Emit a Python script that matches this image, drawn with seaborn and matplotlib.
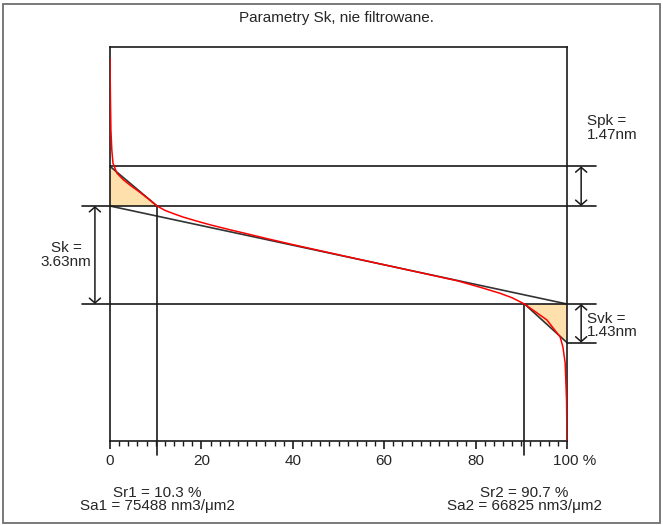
import numpy as np
import pandas as pd
import matplotlib
matplotlib.use("Agg")
import matplotlib.pyplot as plt
from matplotlib.patches import Rectangle, Polygon
import seaborn as sns

# Krzywa Abbotta-Firestone'a
bearing_pct = [0.0, 0.05, 0.1, 0.2, 0.4, 0.65, 1.5, 2.8, 4.4, 6.6, 8.5, 10.3, 12.0,
               14.0, 16.0, 19.0, 22.0, 26.0, 30.0, 34.4, 40.0, 52.5, 67.8, 76.0,
               81.0, 85.3, 88.0, 90.7, 95.6, 98.5, 99.1, 99.6, 99.9, 100.0]
height_nm = [9.10, 8.30, 7.56, 6.44, 5.70, 5.22, 4.85, 4.62, 4.40, 4.13, 3.88, 3.63,
             3.47, 3.34, 3.22, 3.07, 2.93, 2.76, 2.60, 2.42, 2.20, 1.73, 1.165,
             0.86, 0.62, 0.40, 0.23, 0.0, -0.59, -1.22, -1.59, -2.19, -3.56, -5.07]

# Parametry Sk
Sk = 3.63
Spk = 1.47
Svk = 1.43
Sr1 = 10.3
Sr2 = 90.7
Sa1 = 75488
Sa2 = 66825

title = "Parametry Sk, nie filtrowane."
x_ticks = [0, 20, 40, 60, 80, 100]
x_ticklabels = ["0", "20", "40", "60", "80", "100 %"]

sns.set_style("white")
plt.rcParams["font.family"] = ["Liberation Sans", "DejaVu Sans"]

fs = 11

df = pd.DataFrame({"pct": bearing_pct, "h": height_nm})

fig = plt.figure(figsize=(6.63, 5.25), dpi=100)
ax = fig.add_axes([110 / 663, 1 - 441 / 525, 457 / 663, 394 / 525])

ink = "#1a1a1a"
fill_col = "#fde0ac"
ax.set_xlim(0, 100)
ax.set_ylim(-5.074, 9.519)

core_top = Sk
core_bot = 0.0
peak_top = Sk + Spk
valley_bot = -Svk

# trojkaty Spk / Svk
ax.add_patch(Polygon([(0, peak_top), (0, core_top), (Sr1, core_top)],
                     closed=True, facecolor=fill_col, edgecolor="none", zorder=1))
ax.add_patch(Polygon([(Sr2, core_bot), (100, core_bot), (100, valley_bot)],
                     closed=True, facecolor=fill_col, edgecolor="none", zorder=1))
ax.plot([0, Sr1], [peak_top, core_top], color="#333333", lw=1.2, zorder=2)
ax.plot([Sr2, 100], [core_bot, valley_bot], color="#333333", lw=1.2, zorder=2)

# prosta rownowazna
ax.plot([0, 100], [core_top, core_bot], color="#333333", lw=1.2, zorder=2)

# linie poziome
xl, xr = -6.1, 106.3
ax.plot([0, xr], [peak_top, peak_top], color=ink, lw=1.2, clip_on=False)
ax.plot([xl, xr], [core_top, core_top], color=ink, lw=1.2, clip_on=False)
ax.plot([xl, xr], [core_bot, core_bot], color=ink, lw=1.2, clip_on=False)
ax.plot([100, xr], [valley_bot, valley_bot], color=ink, lw=1.2, clip_on=False)

# linie pionowe Sr1 / Sr2
ax.plot([Sr1, Sr1], [core_top, -5.59], color=ink, lw=1.2, clip_on=False)
ax.plot([Sr2, Sr2], [core_bot, -5.59], color=ink, lw=1.2, clip_on=False)

# krzywa
sns.lineplot(data=df, x="pct", y="h", color="red", lw=1.1, sort=False,
             estimator=None, ax=ax, zorder=3)

# strzalki
arrow = dict(arrowstyle="<->,head_length=0.35,head_width=0.4", color=ink, lw=1.1,
             shrinkA=0, shrinkB=0)
for xa, y0, y1 in [(-3.3, core_top, core_bot), (103.1, peak_top, core_top),
                   (103.1, core_bot, valley_bot)]:
    ax.annotate("", xy=(xa, y0), xytext=(xa, y1), arrowprops=arrow,
                annotation_clip=False)

ax.text(-9.6, 1.81, f"Sk =\n{Sk:.2f}nm", ha="center", va="center", fontsize=fs,
        linespacing=0.95, clip_on=False)
ax.text(104.3, 6.52, f"Spk =\n{Spk:.2f}nm", ha="left", va="center", fontsize=fs,
        linespacing=0.95, clip_on=False)
ax.text(104.3, -0.80, f"Svk =\n{Svk:.2f}nm", ha="left", va="center", fontsize=fs,
        linespacing=0.95, clip_on=False)

ax.text(Sr1, -7.25, f"Sr1 = {Sr1} %\nSa1 = {Sa1} nm3/\u03bcm2", ha="center",
        va="center", fontsize=fs, linespacing=0.95, clip_on=False)
ax.text(Sr2, -7.25, f"Sr2 = {Sr2} %\nSa2 = {Sa2} nm3/\u03bcm2", ha="center",
        va="center", fontsize=fs, linespacing=0.95, clip_on=False)

# osie
for s in ax.spines.values():
    s.set_visible(True)
    s.set_color(ink)
    s.set_linewidth(1.2)
ax.set_yticks([])
ax.set_xticks(x_ticks)
ax.set_xticklabels([])
ax.set_xticks(np.arange(0, 101, 2), minor=True)
ax.tick_params(axis="x", which="major", direction="out", length=6, width=1.2,
               color=ink, bottom=True)
ax.tick_params(axis="x", which="minor", direction="out", length=3.4, width=1.0,
               color=ink, bottom=True)
for t, lab in zip(x_ticks, x_ticklabels):
    off = 7.5 if lab.endswith("%") else 0
    ax.annotate(lab, xy=(t, 0), xycoords=("data", "axes fraction"),
                xytext=(off * 0.72, -9.5), textcoords="offset points",
                ha="center", va="top", fontsize=fs, annotation_clip=False)
ax.set_xlabel("")
ax.set_ylabel("")

fig.text(336 / 663, 1 - 18 / 525, title, ha="center", va="center", fontsize=fs)
fig.patches.append(Rectangle((3 / 663, 2 / 525), 657 / 663, 519 / 525,
                             transform=fig.transFigure, fill=False,
                             edgecolor="#6e6e6e", lw=1.3))

fig.savefig("out.png", dpi=100, facecolor="white")
